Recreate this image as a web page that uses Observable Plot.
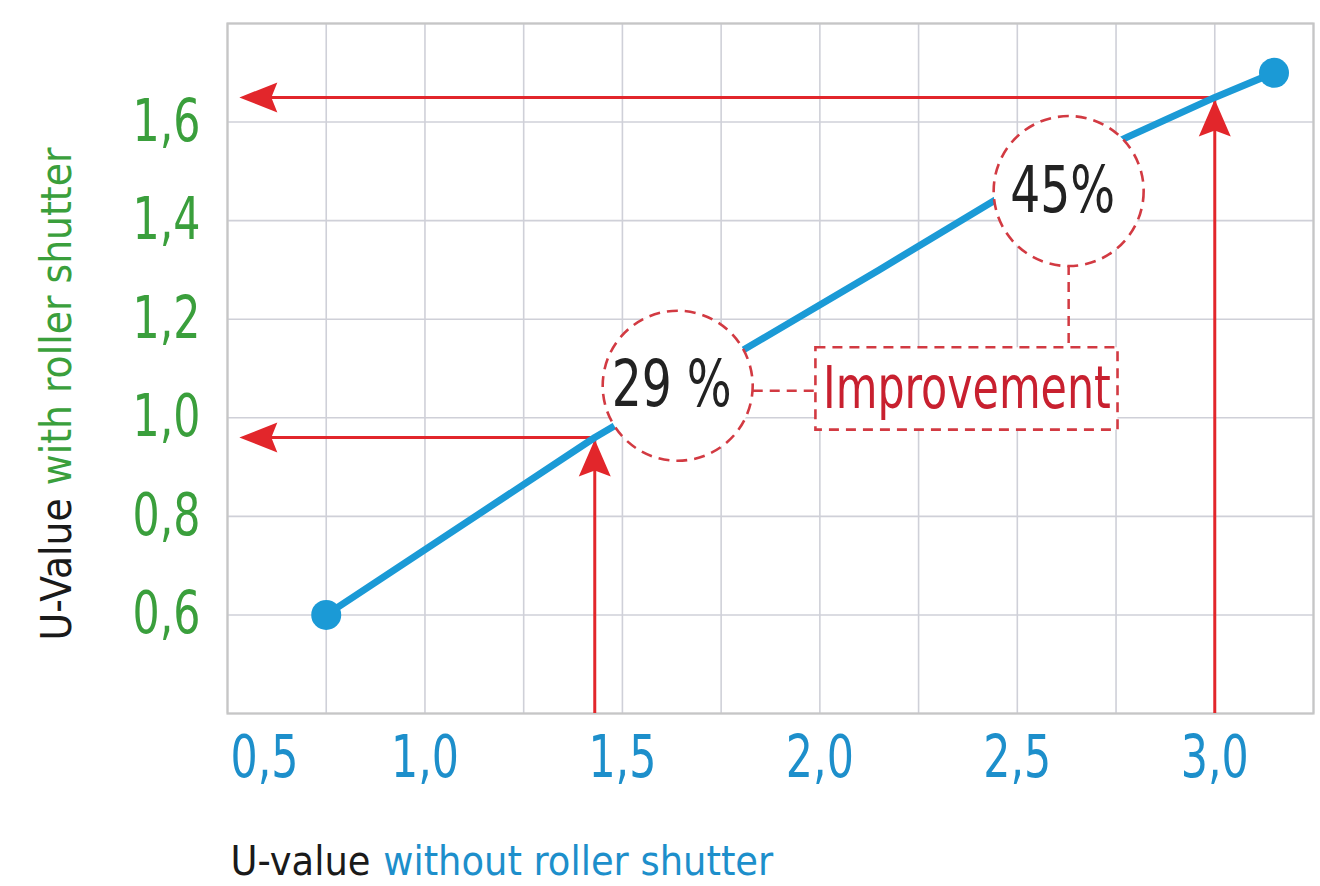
<!DOCTYPE html>
<html><head><meta charset="utf-8">
<script src="https://cdn.jsdelivr.net/npm/d3@7"></script>
<script src="https://cdn.jsdelivr.net/npm/@observablehq/plot@0.6"></script>
<style>body{margin:0;background:#fff}#chart{width:1320px;height:886px}</style>
</head><body><div id="chart"></div>
<script>
// ---- data ----
const uWithout = [0.75, 1.43, 2.15, 2.44, 2.78, 3.0, 3.15];
const uWith    = [0.60, 0.96, 1.30, 1.44, 1.57, 1.65, 1.70];
const xTicks = [0.5, 1.0, 1.5, 2.0, 2.5, 3.0];
const yTicks = [0.6, 0.8, 1.0, 1.2, 1.4, 1.6];
const xGrid = [0.5, 0.75, 1.0, 1.25, 1.5, 1.75, 2.0, 2.25, 2.5, 2.75, 3.0, 3.25];
const yGrid = [0.4, 0.6, 0.8, 1.0, 1.2, 1.4, 1.6, 1.8];
const markerX = [1.43, 3.0];
const markerY = [0.96, 1.65];
const arrowTipX = 0.53;
const badgeLabels = ["29 %", "45%"];
const badgeX = [1.64, 2.63];
const badgeY = [1.065, 1.46];
const boxLabel = "Improvement";
const boxX = [1.99, 2.755];
const boxY = [0.975, 1.142];
const linkX1 = [1.83, 2.63], linkY1 = [1.055, 1.31];
const linkX2 = [1.99, 2.63], linkY2 = [1.055, 1.142];
const xTitle = ["U-value", "without roller shutter"];
const yTitle = ["U-Value", "with roller shutter"];

// ---- styles ----
const FONT = '"Liberation Sans Narrow","Arial Narrow","DejaVu Sans Condensed","Roboto Condensed",sans-serif';
const BLUE = "#1b9ad6", AXBLUE = "#1d8fcb", GREEN = "#3a9f3c", RED = "#e2262b", DRED = "#d23a42", TXTRED = "#c8202f", INK = "#1a1a1a";
const fmt = d => d.toFixed(1).replace(".", ",");
const NB = "\u00a0";

const points = uWithout.map((x, i) => ({x, y: uWith[i]}));
const ends = [points[0], points[points.length - 1]];
const markers = markerX.map((x, i) => ({x, y: markerY[i]}));
const badges = badgeLabels.map((t, i) => ({t, x: badgeX[i], y: badgeY[i]}));
const links = linkX1.map((x1, i) => ({x1, y1: linkY1[i], x2: linkX2[i], y2: linkY2[i]}));

const arrowLeft = {draw(c) { c.moveTo(0, 0); c.lineTo(38, -15); c.lineTo(32, 0); c.lineTo(38, 15); c.closePath(); }};
const arrowUp = {draw(c) { c.moveTo(0, 0); c.lineTo(-16, 37); c.lineTo(0, 31); c.lineTo(16, 37); c.closePath(); }};

const xTitleOpts = {frameAnchor: "bottom-left", text: d => d, dx: 3, dy: 148, textAnchor: "start", lineAnchor: "middle", fontSize: 41};
const yTitleOpts = {frameAnchor: "left", text: d => d, dx: -170, dy: 272, rotate: -90, textAnchor: "start", lineAnchor: "middle", fontSize: 42};

const svg = Plot.plot({
  width: 1320, height: 886,
  marginLeft: 227, marginRight: 7, marginTop: 23, marginBottom: 173,
  x: {domain: [0.5, 3.25], label: null},
  y: {domain: [0.4, 1.8], label: null},
  style: {fontFamily: FONT, background: "#fff"},
  marks: [
    Plot.gridX(xGrid, {stroke: "#cfd0d8", strokeOpacity: 1, strokeWidth: 1.6}),
    Plot.gridY(yGrid, {stroke: "#cfd0d8", strokeOpacity: 1, strokeWidth: 1.6}),
    Plot.frame({stroke: "#c6c6c6", strokeWidth: 2.2}),
    Plot.axisX(xTicks.slice(0, 1), {tickSize: 0, tickPadding: 22, fontSize: 58, color: AXBLUE, textAnchor: "start", dx: 3, tickFormat: fmt, label: null}),
    Plot.axisX(xTicks.slice(1), {tickSize: 0, tickPadding: 22, fontSize: 58, color: AXBLUE, tickFormat: fmt, label: null}),
    Plot.axisY(yTicks, {tickSize: 0, tickPadding: 27, fontSize: 58, color: GREEN, tickFormat: fmt, label: null}),
    // red guide arrows
    Plot.ruleY(markers, {y: "y", x1: () => arrowTipX + 0.06, x2: "x", stroke: RED, strokeWidth: 3}),
    Plot.ruleX(markers, {x: "x", y1: () => 0.4, y2: "y", stroke: RED, strokeWidth: 3}),
    Plot.dot(markers, {x: () => arrowTipX, y: "y", symbol: arrowLeft, fill: RED, stroke: "none"}),
    Plot.dot(markers, {x: "x", y: "y", dy: 2, symbol: arrowUp, fill: RED, stroke: "none"}),
    // data line
    Plot.line(points, {x: "x", y: "y", stroke: BLUE, strokeWidth: 7}),
    Plot.dot(ends, {x: "x", y: "y", r: 15, fill: BLUE}),
    // annotations
    Plot.link(links, {x1: "x1", y1: "y1", x2: "x2", y2: "y2", stroke: DRED, strokeWidth: 2.5, strokeDasharray: "10,7"}),
    Plot.dot(badges, {x: "x", y: "y", r: 75, fill: "#fff", stroke: DRED, strokeWidth: 2.6, strokeDasharray: "11,7"}),
    Plot.text(badges, {x: "x", y: "y", text: "t", dx: -6, fontSize: 64, fill: "#222", lineAnchor: "middle"}),
    Plot.rect([0], {x1: () => boxX[0], x2: () => boxX[1], y1: () => boxY[0], y2: () => boxY[1], fill: "#fff", stroke: DRED, strokeWidth: 2.6, strokeDasharray: "10,7"}),
    Plot.text([boxLabel], {x: () => (boxX[0] + boxX[1]) / 2, y: () => (boxY[0] + boxY[1]) / 2, text: d => d, fontSize: 58, fill: TXTRED, lineAnchor: "middle"}),
    // axis titles (two coloured parts each)
    Plot.text([xTitle[0]], {...xTitleOpts, fill: INK}),
    Plot.text([NB + xTitle[1]], {...xTitleOpts, fill: AXBLUE}),
    Plot.text([yTitle[0]], {...yTitleOpts, fill: INK}),
    Plot.text([NB + yTitle[1]], {...yTitleOpts, fill: GREEN})
  ]
});

document.getElementById("chart").appendChild(svg);

const nodes = d3.select(svg).selectAll("text").nodes();
// place the coloured second part of each title right after the first part
const titleSet = new Set();
for (const parts of [xTitle, yTitle]) {
  const a = nodes.find(n => n.textContent === parts[0]);
  const b = nodes.find(n => n.textContent === NB + parts[1]);
  titleSet.add(a); titleSet.add(b);
  b.setAttribute("dx", (a.getComputedTextLength() + 1).toFixed(1));
}
// condense glyphs of the other texts to imitate the narrow typeface of the original
for (const n of nodes) {
  if (titleSet.has(n)) continue;
  const L = n.getComputedTextLength();
  if (L > 0) {
    n.setAttribute("textLength", (L * 0.82).toFixed(1));
    n.setAttribute("lengthAdjust", "spacingAndGlyphs");
  }
}
</script>
</body></html>
